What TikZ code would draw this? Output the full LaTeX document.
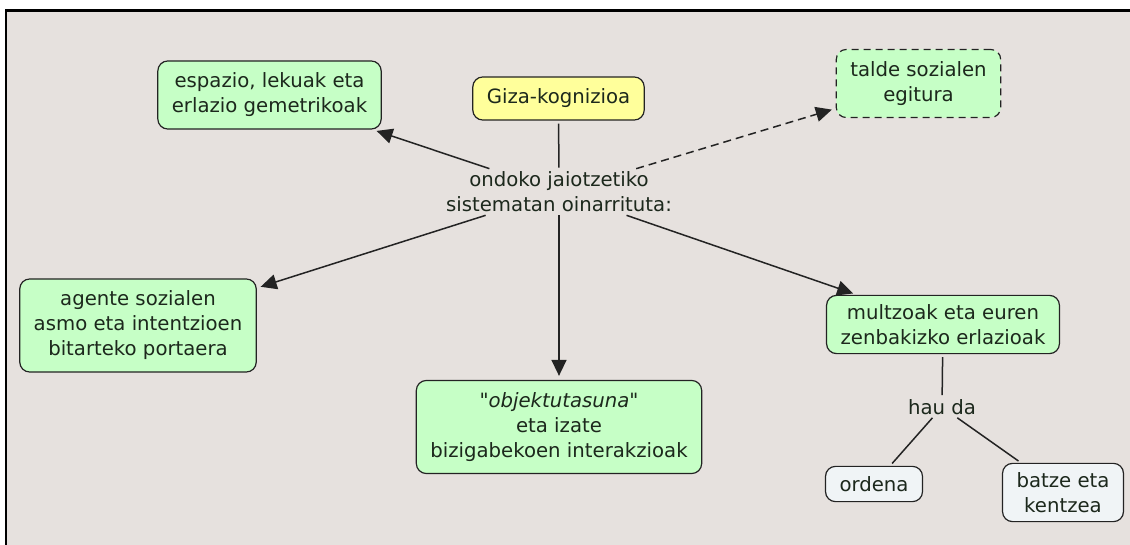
\documentclass[tikz,border=0pt]{standalone}
\usepackage{fontspec}
\setmainfont{DejaVu Sans}
\usetikzlibrary{arrows.meta}
\definecolor{mapbg}{RGB}{230,225,222}
\definecolor{conceptgreen}{RGB}{198,255,198}
\definecolor{conceptyellow}{RGB}{255,255,155}
\definecolor{conceptgrey}{RGB}{240,244,246}
\definecolor{mapline}{RGB}{35,35,35}
\definecolor{maptext}{RGB}{28,40,28}
\tikzset{
  concept/.style={draw=mapline, line width=1.2pt, rounded corners=10pt,
    fill=conceptgreen, align=center, inner xsep=14pt, inner ysep=12pt, text=maptext},
  linkword/.style={align=center, inner sep=3pt, text=maptext},
  link/.style={draw=mapline, line width=1.5pt,
    -{Triangle[length=16pt,width=15pt]}, shorten >=4pt}
}
\begin{document}
\begin{tikzpicture}[x=1pt,y=-1pt,font=\fontsize{19.7}{25}\selectfont]
      \useasboundingbox (0,0) rectangle (1130,545);
      \fill[mapbg] (6,10.5) rectangle (1130,545);
      \draw[line width=2.5pt] (6,545) -- (6,10.5) -- (1130,10.5);
      \draw
        (558.5,98.5) node[concept,fill=conceptyellow] (giza){Giza-kognizioa}
        (559,192) node[linkword] (oin){ondoko jaiotzetiko\\sistematan oinarrituta:}
        (269.5,95) node[concept] (espazio){espazio, lekuak eta\\erlazio gemetrikoak}
        (918.5,83.5) node[concept,dash pattern=on 7pt off 5pt] (talde){talde sozialen\\egitura}
        (138,325.5) node[concept] (agente){agente sozialen\\asmo eta intentzioen\\bitarteko portaera}
        (559,427) node[concept] (objektu){\textit{\textquotedbl objektutasuna\textquotedbl}\\eta izate\\bizigabekoen interakzioak}
        (943,324.5) node[concept,inner ysep=9pt] (multzoak){multzoak eta euren\\zenbakizko erlazioak}
        (942,407) node[linkword] (hau){hau da}
        (874,484) node[concept,fill=conceptgrey,inner ysep=10pt] (ordena){ordena}
        (1063,492.5) node[concept,fill=conceptgrey,inner ysep=9pt] (batze){batze eta\\kentzea};
      \begin{scope}[link]
        \draw[-,shorten <=3pt,shorten >=1pt] (giza) to (oin);
        \draw (oin) to (espazio);
        \draw[dash pattern=on 8pt off 5pt] (oin) to (talde);
        \draw (oin) to (agente);
        \draw (oin) to (objektu);
        \draw (oin) to (multzoak);
        \draw[-,shorten <=3pt,shorten >=1pt] (multzoak) to (hau);
        \draw[-,shorten >=3pt] (hau) to (ordena);
        \draw[-,shorten >=3pt] (hau) to (batze);
      \end{scope}
    \end{tikzpicture}
\end{document}
